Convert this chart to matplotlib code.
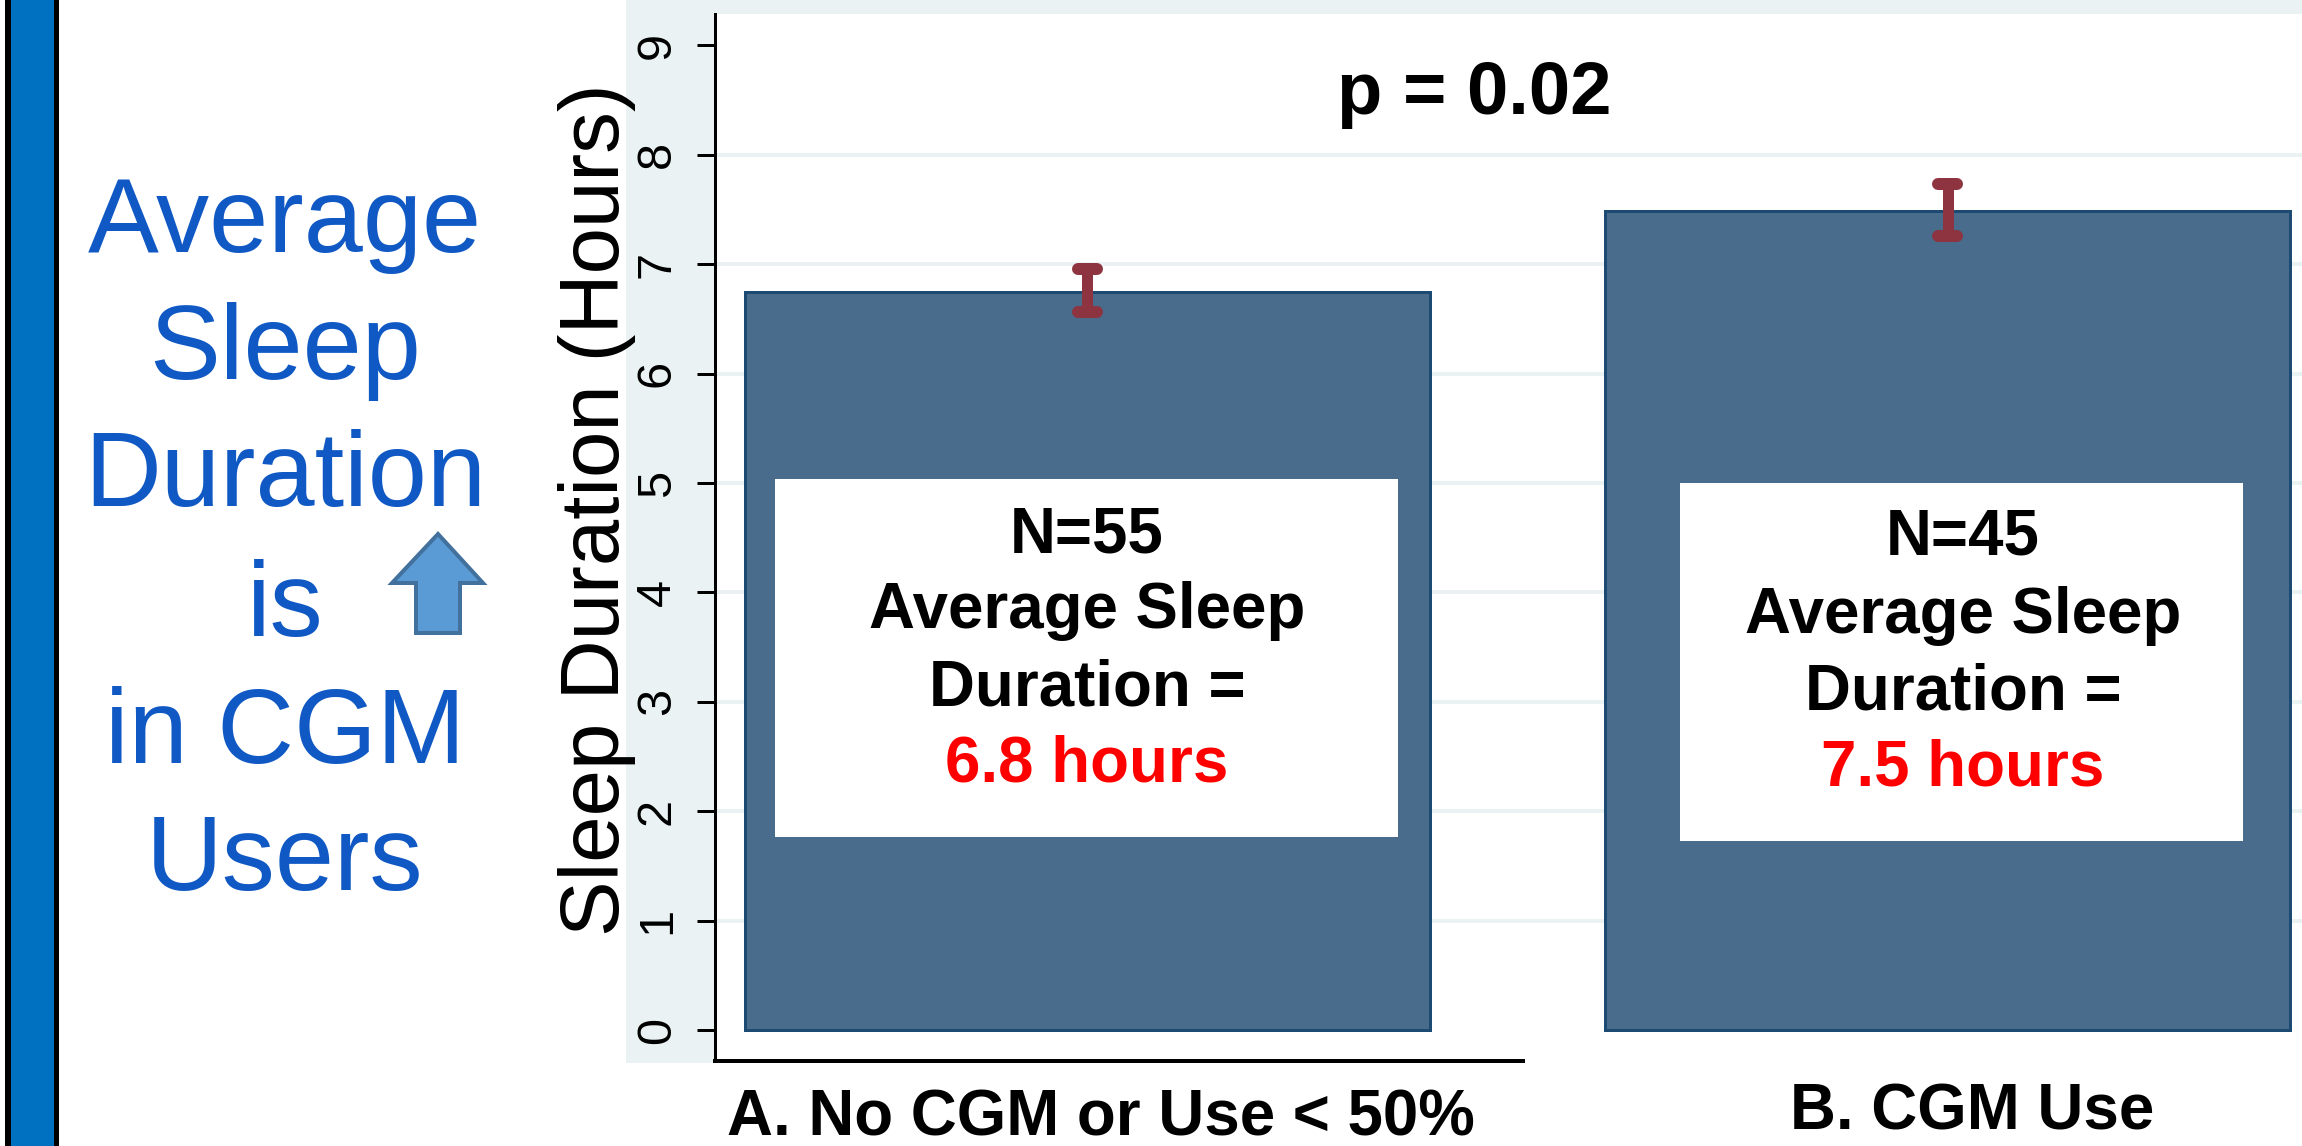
import matplotlib
matplotlib.use("Agg")
import matplotlib.pyplot as plt
from matplotlib.patches import Rectangle, Polygon

W, H = 2302, 1146

groups = ["A. No CGM or Use < 50%", "B. CGM Use"]
means = [6.75, 7.49]
ci_low = [6.56, 7.26]
ci_high = [6.96, 7.73]
y_ticks = list(range(10))
grid_vals = list(range(1, 9))
box_head = ["N=55", "N=45"]
box_hours = ["6.8 hours", "7.5 hours"]
side_lines = ["Average", "Sleep", "Duration", "is", "in CGM", "Users"]

bar_col = "#4a6c8c"
bar_edge = "#1d4a73"
band_col = "#eaf2f3"
err_col = "#8e3340"
side_col = "#1059c4"

plt.rcParams["font.family"] = ["Liberation Sans", "DejaVu Sans"]


def fx(x):
    return x / W


def fy(y):
    return 1 - y / H


def px(n):
    # pixels to points at dpi 100
    return n * 0.72


def frect(x0, y0, x1, y1, **kw):
    return Rectangle((fx(x0), fy(y1)), (x1 - x0) / W, (y1 - y0) / H,
                     transform=fig.transFigure, **kw)


fig = plt.figure(figsize=(W / 100, H / 100), dpi=100, facecolor="white")

# page furniture on the left + pale band behind the plot
fig.add_artist(frect(5, 0, 59, H, facecolor="#0070c0", edgecolor="none"))
fig.add_artist(frect(5, 0, 11, H, facecolor="black", edgecolor="none"))
fig.add_artist(frect(54, 0, 59, H, facecolor="black", edgecolor="none"))
fig.add_artist(frect(626, 0, 715, 1063, facecolor=band_col, edgecolor="none", zorder=-1))
fig.add_artist(frect(626, 0, W, 14, facecolor=band_col, edgecolor="none", zorder=-1))

ax = fig.add_axes([fx(715), fy(1061), (W - 715) / W, (1061 - 14) / H])
ax.set_facecolor("white")
ax.set_xlim(-0.433, 1.412)
ax.set_ylim(-0.283, 9.287)

ax.hlines(grid_vals, -0.433, 1.412, color=band_col, lw=px(4), zorder=1)
ax.bar([0, 1], means, width=0.796, color=bar_col, edgecolor=bar_edge,
       linewidth=px(3), zorder=2)

for i in range(2):
    ax.plot([i, i], [ci_low[i], ci_high[i]], color=err_col, lw=px(11),
            solid_capstyle="butt", zorder=3)
    for v in (ci_low[i], ci_high[i]):
        ax.plot([i - 0.011, i + 0.011], [v, v], color=err_col, lw=px(12),
                solid_capstyle="round", zorder=3)

ax.set_yticks(y_ticks)
ax.set_yticklabels([str(t) for t in y_ticks], rotation=90, va="center",
                   fontsize=35)
ax.set_xticks([])
ax.tick_params(axis="y", length=px(18), width=px(3), pad=px(17))
for s in ("top", "right"):
    ax.spines[s].set_visible(False)
ax.spines["left"].set_linewidth(px(3))
ax.spines["bottom"].set_linewidth(px(4))
ax.spines["bottom"].set_bounds(-0.433, (1523 - 1087.5) / 860)

# white label boxes sit on top of the bars
fig.add_artist(frect(775, 479, 1398, 837, facecolor="white", edgecolor="none", zorder=5))
fig.add_artist(frect(1680, 483, 2243, 841, facecolor="white", edgecolor="none", zorder=5))


def label(x, y, s, size, color="black", weight="bold", **kw):
    fig.text(fx(x), fy(y), s, fontsize=size, color=color, fontweight=weight,
             ha="center", va="baseline", zorder=6, **kw)


box_x = [1087, 1963]
box_y = [[552, 628, 706, 782], [555, 633, 709, 785]]
for i in range(2):
    label(box_x[i], box_y[i][0], box_head[i], 45.8)
    label(box_x[i], box_y[i][1], "Average Sleep", 45.8)
    label(box_x[i], box_y[i][2], "Duration =", 45.8)
    label(box_x[i], box_y[i][3], box_hours[i], 45.8, color="#ff0000")

label(1474, 114, "p = 0.02", 53.5)
label(1101, 1136, groups[0], 45.8)
label(1972, 1130, groups[1], 45.8)

fig.text(fx(597), fy(510), "Sleep Duration (Hours)", fontsize=60, rotation=90,
         ha="center", va="center", color="black", zorder=6)

side_y = [252, 379, 506, 636, 763, 890]
for s, y in zip(side_lines, side_y):
    label(285, y, s, 76.5, color=side_col, weight="normal")

# small up arrow next to "is"
arrow_pts = [(392, 583), (438, 534), (483, 583), (460, 583), (460, 633), (416, 633), (416, 583)]
fig.add_artist(Polygon([(fx(a), fy(b)) for a, b in arrow_pts], closed=True,
                       transform=fig.transFigure, facecolor="#5b9bd5",
                       edgecolor="#41719c", linewidth=px(4)))

fig.savefig("out.png", dpi=100)
